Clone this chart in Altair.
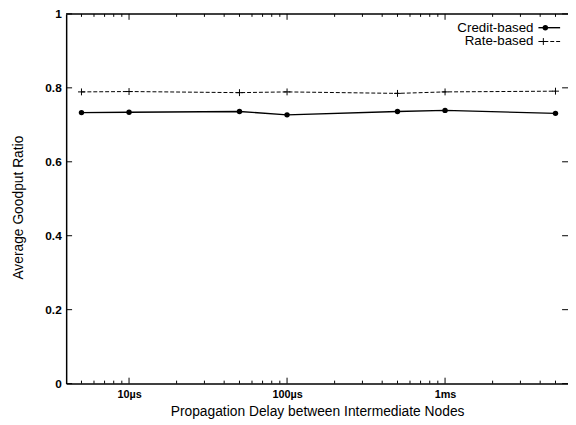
import altair as alt
import pandas as pd

# ---- data ----
delay_us = [5, 10, 50, 100, 500, 1000, 5000]
credit_based = [0.733, 0.734, 0.736, 0.727, 0.736, 0.739, 0.731]
rate_based = [0.789, 0.790, 0.787, 0.789, 0.785, 0.789, 0.791]
series_names = ["Credit-based", "Rate-based"]

x_major = [10, 100, 1000]
x_major_labels = ["10µs", "100µs", "1ms"]
x_minor = [5, 6, 7, 8, 9, 20, 30, 40, 50, 60, 70, 80, 90,
           200, 300, 400, 500, 600, 700, 800, 900, 2000, 3000, 4000, 5000]
y_ticks = [0, 0.2, 0.4, 0.6, 0.8, 1]

W, H = 509, 375
FONT = "Liberation Sans"

xscale = alt.Scale(type="log", domain=[4, 6000], nice=False)
yscale = alt.Scale(domain=[0, 1], nice=False)

label_expr = " : ".join(
    f"datum.value == {v} ? '{l}'" for v, l in zip(x_major[:-1], x_major_labels[:-1])
) + f" : '{x_major_labels[-1]}'"

xaxis = alt.Axis(values=x_major, labelExpr=label_expr, ticks=False, grid=False,
                 domainColor="black", domainWidth=1.5, labelFontSize=11,
                 labelFontWeight="bold", labelColor="black", labelPadding=5,
                 labelFlush=False, labelOverlap=False,
                 title="Propagation Delay between Intermediate Nodes",
                 titleFontSize=14, titleFontWeight="normal", titleColor="black",
                 titlePadding=5)
yaxis = alt.Axis(values=y_ticks, format="~g", ticks=False, grid=False, domainColor="black",
                 domainWidth=1.5, labelFontSize=12, labelFontWeight="bold",
                 labelColor="black", labelPadding=5, labelFlush=False,
                 title="Average Goodput Ratio", titleFontSize=14,
                 titleFontWeight="normal", titleColor="black",
                 titleX=-48, titleY=196, titleBaseline="middle")

X = alt.X("delay:Q", scale=xscale, axis=xaxis)
Y = alt.Y("ratio:Q", scale=yscale, axis=yaxis)

credit_df = pd.DataFrame({"delay": delay_us, "ratio": credit_based})
rate_df = pd.DataFrame({"delay": delay_us, "ratio": rate_based})

plus_path = "M-1,0H1M0,-1V1"

credit_line = alt.Chart(credit_df).mark_line(color="black", strokeWidth=1.4).encode(x=X, y=Y)
credit_pts = alt.Chart(credit_df).mark_point(shape="circle", filled=True, color="black",
                                             size=30, opacity=1).encode(x=X, y=Y)
rate_line = alt.Chart(rate_df).mark_line(color="black", strokeWidth=1,
                                         strokeDash=[4, 2]).encode(x=X, y=Y)
rate_pts = alt.Chart(rate_df).mark_point(shape=plus_path, filled=False, color="black",
                                         size=49, strokeWidth=1, opacity=1).encode(x=X, y=Y)

# inward tick marks (gnuplot style), on all four sides
xmaj_df = pd.DataFrame({"delay": x_major})
xmin_df = pd.DataFrame({"delay": x_minor})
yt_df = pd.DataFrame({"ratio": y_ticks})
tick_style = dict(color="black", strokeWidth=1)
ticks = [
    alt.Chart(xmaj_df).mark_rule(**tick_style).encode(x=X, y=alt.value(H), y2=alt.value(H - 6)),
    alt.Chart(xmaj_df).mark_rule(**tick_style).encode(x=X, y=alt.value(0), y2=alt.value(6)),
    alt.Chart(xmin_df).mark_rule(**tick_style).encode(x=X, y=alt.value(H), y2=alt.value(H - 3)),
    alt.Chart(xmin_df).mark_rule(**tick_style).encode(x=X, y=alt.value(0), y2=alt.value(3)),
    alt.Chart(yt_df).mark_rule(**tick_style).encode(y=Y, x=alt.value(0), x2=alt.value(6)),
    alt.Chart(yt_df).mark_rule(**tick_style).encode(y=Y, x=alt.value(W - 6), x2=alt.value(W)),
]

top_border = alt.Chart(pd.DataFrame({"ratio": [1]})).mark_rule(color="black", strokeWidth=1.5).encode(
    y=Y, x=alt.value(0), x2=alt.value(W))

# legend (label left, sample right, as in gnuplot)
leg1 = pd.DataFrame({"name": [series_names[0]]})
leg2 = pd.DataFrame({"name": [series_names[1]]})
lx_text, lx0, lx1 = 474, 479, 501
ly1, ly2 = 14, 28
legend = [
    alt.Chart(leg1).mark_text(align="right", baseline="middle", fontSize=13.5, font=FONT,
                              color="black").encode(text="name:N", x=alt.value(lx_text), y=alt.value(ly1)),
    alt.Chart(leg2).mark_text(align="right", baseline="middle", fontSize=13.5, font=FONT,
                              color="black").encode(text="name:N", x=alt.value(lx_text), y=alt.value(ly2)),
    alt.Chart(leg1).mark_rule(color="black", strokeWidth=1.4).encode(
        x=alt.value(lx0), x2=alt.value(lx1), y=alt.value(ly1)),
    alt.Chart(leg2).mark_rule(color="black", strokeWidth=1, strokeDash=[4, 2]).encode(
        x=alt.value(lx0), x2=alt.value(lx1), y=alt.value(ly2)),
    alt.Chart(leg1).mark_point(shape="circle", filled=True, color="black", size=30,
                               opacity=1).encode(x=alt.value(486), y=alt.value(ly1)),
    alt.Chart(leg2).mark_point(shape=plus_path, filled=False, color="black", size=49,
                               strokeWidth=1, opacity=1).encode(x=alt.value(484), y=alt.value(ly2)),
]

chart = alt.layer(
    credit_line, rate_line, credit_pts, rate_pts, top_border, *ticks, *legend
).properties(
    width=W, height=H,
    autosize=alt.AutoSizeParams(type="none"),
    padding={"left": 59, "top": 3, "right": 0, "bottom": 39},
    background="white",
).configure(font=FONT).configure_view(stroke=None)

chart.save("out.html", embed_options={"renderer": "svg", "actions": False})
